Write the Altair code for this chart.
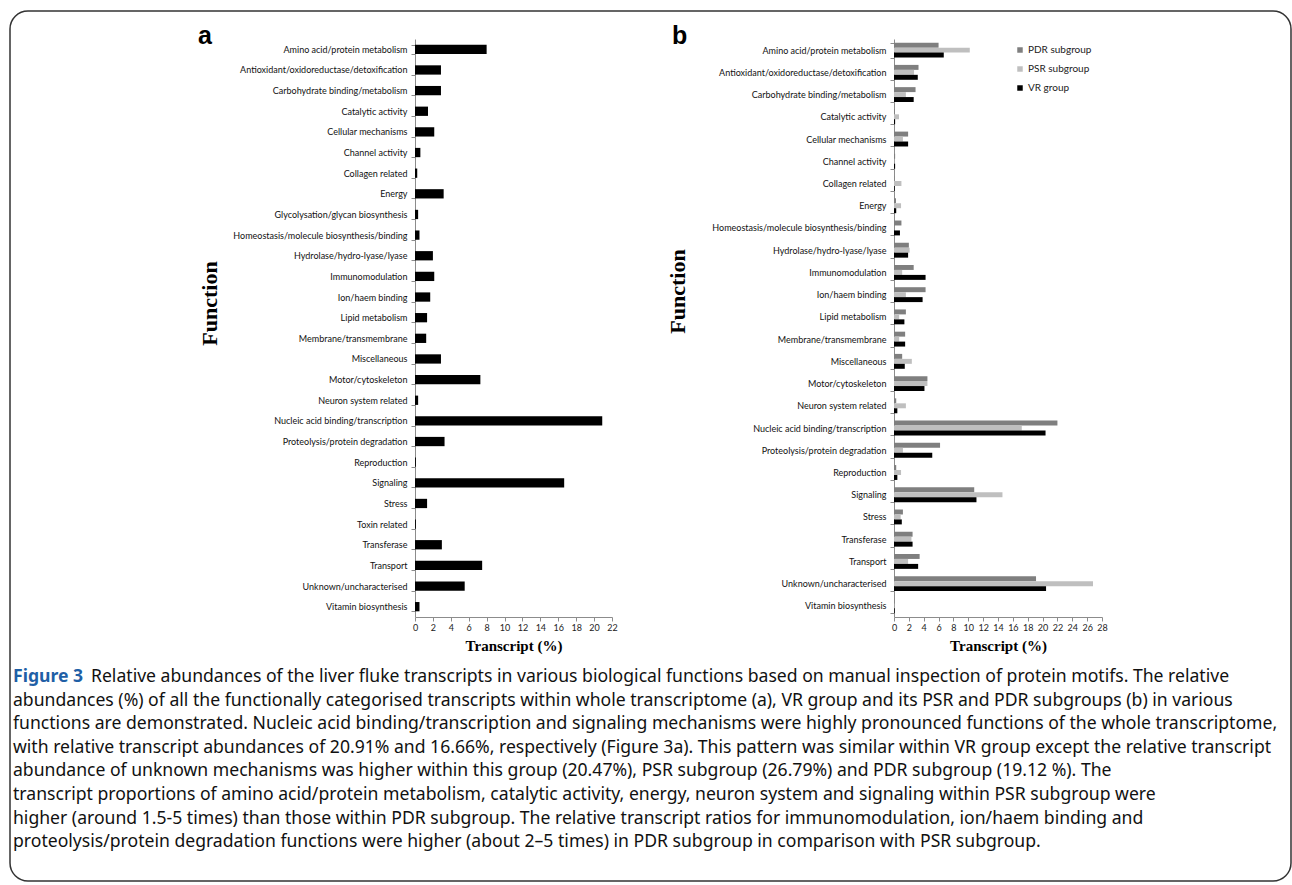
import altair as alt
import pandas as pd

# ---------------- data ----------------
cats_a = [
    "Amino acid/protein metabolism", "Antioxidant/oxidoreductase/detoxification",
    "Carbohydrate binding/metabolism", "Catalytic activity", "Cellular mechanisms",
    "Channel activity", "Collagen related", "Energy", "Glycolysation/glycan biosynthesis",
    "Homeostasis/molecule biosynthesis/binding", "Hydrolase/hydro-lyase/lyase",
    "Immunomodulation", "Ion/haem binding", "Lipid metabolism", "Membrane/transmembrane",
    "Miscellaneous", "Motor/cytoskeleton", "Neuron system related",
    "Nucleic acid binding/transcription", "Proteolysis/protein degradation",
    "Reproduction", "Signaling", "Stress", "Toxin related", "Transferase", "Transport",
    "Unknown/uncharacterised", "Vitamin biosynthesis",
]
vals_a = [8.0, 2.9, 2.9, 1.45, 2.15, 0.6, 0.25, 3.2, 0.35, 0.5, 2.0, 2.15, 1.7, 1.35,
          1.25, 2.9, 7.3, 0.35, 20.91, 3.3, 0.1, 16.66, 1.35, 0.1, 3.0, 7.5, 5.55, 0.5]

cats_b = [
    "Amino acid/protein metabolism", "Antioxidant/oxidoreductase/detoxification",
    "Carbohydrate binding/metabolism", "Catalytic activity", "Cellular mechanisms",
    "Channel activity", "Collagen related", "Energy",
    "Homeostasis/molecule biosynthesis/binding", "Hydrolase/hydro-lyase/lyase",
    "Immunomodulation", "Ion/haem binding", "Lipid metabolism", "Membrane/transmembrane",
    "Miscellaneous", "Motor/cytoskeleton", "Neuron system related",
    "Nucleic acid binding/transcription", "Proteolysis/protein degradation",
    "Reproduction", "Signaling", "Stress", "Transferase", "Transport",
    "Unknown/uncharacterised", "Vitamin biosynthesis",
]
pdr = [6.0, 3.3, 2.9, 0.1, 1.9, 0.15, 0.05, 0.27, 1.0, 2.0, 2.65, 4.25, 1.6, 1.5,
       1.1, 4.5, 0.3, 22.0, 6.2, 0.3, 10.8, 1.2, 2.5, 3.45, 19.12, 0.05]
psr = [10.2, 2.7, 1.6, 0.67, 1.2, 0.05, 1.0, 0.95, 0.0, 2.1, 1.1, 1.6, 0.7, 0.7,
       2.4, 4.5, 1.6, 17.2, 1.2, 0.95, 14.6, 0.9, 2.35, 1.9, 26.79, 0.05]
vr = [6.7, 3.2, 2.65, 0.15, 1.9, 0.15, 0.1, 0.3, 0.8, 1.9, 4.25, 3.85, 1.4, 1.5,
      1.45, 4.1, 0.45, 20.4, 5.15, 0.45, 11.1, 1.05, 2.5, 3.25, 20.47, 0.1]
groups = ["PDR subgroup", "PSR subgroup", "VR group"]
group_colors = ["#7f7f7f", "#bfbfbf", "#000000"]

ticks_a = list(range(0, 23, 2))
ticks_b = list(range(0, 29, 2))

caption_head = "Figure 3"
caption_first = ("Relative abundances of the liver fluke transcripts in various biological "
                 "functions based on manual inspection of protein motifs. The relative")
caption_rest = [
    "abundances (%) of all the functionally categorised transcripts within whole transcriptome (a), VR group and its PSR and PDR subgroups (b) in various",
    "functions are demonstrated. Nucleic acid binding/transcription and signaling mechanisms were highly pronounced functions of the whole transcriptome,",
    "with relative transcript abundances of 20.91% and 16.66%, respectively (Figure 3a). This pattern was similar within VR group except the relative transcript",
    "abundance of unknown mechanisms was higher within this group (20.47%), PSR subgroup (26.79%) and PDR subgroup (19.12 %). The",
    "transcript proportions of amino acid/protein metabolism, catalytic activity, energy, neuron system and signaling within PSR subgroup were",
    "higher (around 1.5-5 times) than those within PDR subgroup. The relative transcript ratios for immunomodulation, ion/haem binding and",
    "proteolysis/protein degradation functions were higher (about 2\u20135 times) in PDR subgroup in comparison with PSR subgroup.",
]

df_a = pd.DataFrame({"Function": cats_a, "Transcript": vals_a})
rows = []
for i, c in enumerate(cats_b):
    for g, v in zip(groups, (pdr[i], psr[i], vr[i])):
        rows.append({"Function": c, "Group": g, "Transcript": v})
df_b = pd.DataFrame(rows)
one = pd.DataFrame({"k": [0]})

LABEL_FONT = "Lato"
SERIF = "Liberation Serif"
AX_GREY = "#8c8c8c"
CAP_FONT = "Noto Sans"
CAP_SIZE = 17.6

def y_axis(tx, ty):
    return alt.Axis(title="Function", titleFont=SERIF, titleFontWeight="bold",
                    titleFontSize=22, titleColor="black", titleX=tx, titleY=ty,
                    titleAlign="center", titleBaseline="middle",
                    labelFont=LABEL_FONT, labelFontSize=9, labelColor="#111",
                    labelLimit=0, labelPadding=4, tickBand="extent", tickSize=4,
                    tickColor=AX_GREY, domainColor=AX_GREY)

def x_axis(vals):
    return alt.Axis(title="Transcript  (%)", titleFont=SERIF, titleFontWeight="bold",
                    titleFontSize=15, titleColor="black", titlePadding=6,
                    values=vals, labelFont=LABEL_FONT, labelFontSize=9,
                    labelOverlap=False, labelFlush=False,
                    labelColor="#222", tickSize=4, tickColor=AX_GREY,
                    domainColor=AX_GREY, grid=False)

W_A, W_B, H = 197, 208, 578

bars_a = alt.Chart(df_a).mark_bar(color="black").encode(
    x=alt.X("Transcript:Q", scale=alt.Scale(domain=[0, 22], nice=False), axis=x_axis(ticks_a)),
    y=alt.Y("Function:N", sort=cats_a,
            scale=alt.Scale(paddingInner=0.55, paddingOuter=0.275),
            axis=y_axis(-206, 264)),
)

letter_a = alt.Chart(one).mark_text(text="a", font="Liberation Sans", fontWeight="bold",
                                    fontSize=25, align="left", baseline="alphabetic").encode(
    x=alt.value(-217), y=alt.value(5))

cap_head = alt.Chart(one).mark_text(text=caption_head, font=CAP_FONT, fontWeight="bold",
                                    fontSize=CAP_SIZE, color="#1f5fa6", align="left",
                                    baseline="alphabetic").encode(
    x=alt.value(-402), y=alt.value(643))
cap_first = alt.Chart(one).mark_text(text=caption_first, font=CAP_FONT, fontSize=CAP_SIZE,
                                     color="#111", align="left",
                                     baseline="alphabetic").encode(
    x=alt.value(-324), y=alt.value(643))
cap_rest = alt.Chart(one).mark_text(text=caption_rest, font=CAP_FONT, fontSize=CAP_SIZE,
                                    color="#111", align="left", baseline="alphabetic",
                                    lineHeight=23.6).encode(
    x=alt.value(-402), y=alt.value(666.6))

border = alt.Chart(one).mark_rect(fillOpacity=0, stroke="#333", strokeWidth=1.5,
                                  cornerRadius=18).encode(
    x=alt.value(-405), x2=alt.value(876), y=alt.value(-28), y2=alt.value(842))

panel_a = alt.layer(border, bars_a, letter_a, cap_head, cap_first, cap_rest).properties(
    width=W_A, height=H)

bars_b = alt.Chart(df_b).mark_bar().encode(
    x=alt.X("Transcript:Q", scale=alt.Scale(domain=[0, 28], nice=False), axis=x_axis(ticks_b)),
    y=alt.Y("Function:N", sort=cats_b,
            scale=alt.Scale(paddingInner=0.33, paddingOuter=0.165),
            axis=y_axis(-217, 252)),
    yOffset=alt.YOffset("Group:N", sort=groups),
    color=alt.Color("Group:N", sort=groups,
                    scale=alt.Scale(domain=groups, range=group_colors),
                    legend=alt.Legend(title=None, orient="none", legendX=600, legendY=6,
                                      symbolType="square", symbolSize=30,
                                      symbolStrokeWidth=0, labelFont=LABEL_FONT,
                                      labelFontSize=10, labelColor="#222",
                                      rowPadding=9, labelOffset=3)),
)

letter_b = alt.Chart(one).mark_text(text="b", font="Liberation Sans", fontWeight="bold",
                                    fontSize=25, align="left", baseline="alphabetic").encode(
    x=alt.value(-222), y=alt.value(5))

panel_b = alt.layer(bars_b, letter_b).properties(width=W_B, height=H)

chart = alt.hconcat(panel_a, panel_b, spacing=282, bounds="flush").properties(
    padding={"left": 9, "top": 10, "right": 0, "bottom": 0},
    background="white",
).configure_view(strokeWidth=0)

chart.save("out.html", embed_options={"renderer": "svg", "actions": False})
